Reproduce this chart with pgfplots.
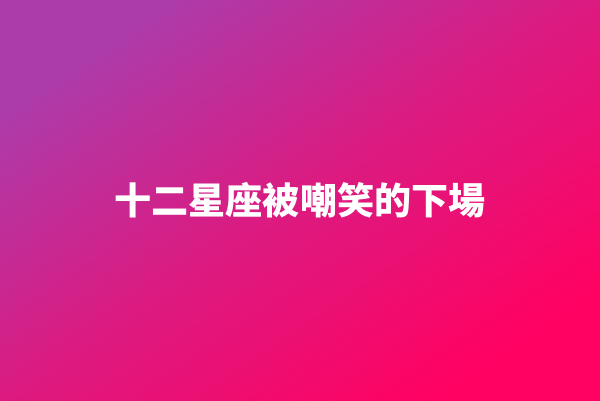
\documentclass[border=0pt]{standalone}
\usepackage{pgfplots}
\pgfplotsset{compat=1.18}
\usepackage{fontspec}
\newfontfamily\cjk{Noto Sans CJK TC}
\begin{document}
\begin{tikzpicture}
\begin{axis}[
  width=600bp, height=400bp, scale only axis,
  xmin=0, xmax=600, ymin=0, ymax=400,
  axis lines=none, clip=true,
]
\addplot[draw=none, shading=axis, top color={rgb,255:red,172;green,60;blue,170}, bottom color={rgb,255:red,255;green,2;blue,98}, middle color={rgb,255:red,220;green,26;blue,128}, shading angle=34]
  coordinates {(0,0) (600,0) (600,400) (0,400)} -- cycle;
\node[text=white, font={\cjk\bfseries\fontsize{37.2}{40}\selectfont}, anchor=center, inner sep=0pt] at (axis cs:300,200) {十二星座被嘲笑的下場};
\end{axis}
\end{tikzpicture}
\end{document}
